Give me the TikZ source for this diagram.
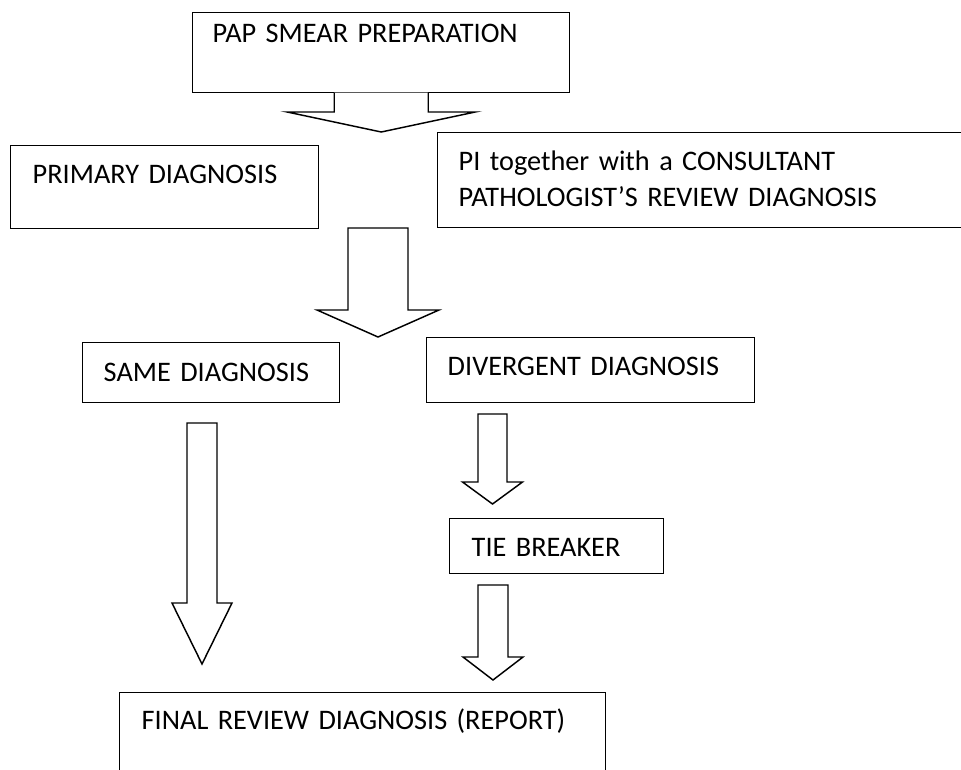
\documentclass[tikz,border=0pt]{standalone}
\usepackage{fontspec}
\setmainfont{Carlito}
\usepackage{tikz}
\usetikzlibrary{calc}
\tikzset{diagbox/.style={shape=rectangle,draw,line width=1.1pt,fill=white,anchor=north west,inner ysep=0pt,align=left,font=\fontsize{21.3pt}{27.1pt}\selectfont}}
\tikzset{arrowline/.style={line width=1.1pt,line join=miter}}

% hollow block arrow: start, tip, shaft half width, head half width, head length, closing
\newcommand{\blockarrow}[6]{%
\fill[white] ($(#1)+(-#3,0)$) -- ($(#2)+(-#3,-#5)$) -- ($(#2)+(-#4,-#5)$) -- (#2) -- ($(#2)+(#4,-#5)$) -- ($(#2)+(#3,-#5)$) -- ($(#1)+(#3,0)$) -- cycle;
\draw[arrowline] ($(#1)+(-#3,0)$) -- ($(#2)+(-#3,-#5)$) -- ($(#2)+(-#4,-#5)$) -- (#2) -- ($(#2)+(#4,-#5)$) -- ($(#2)+(#3,-#5)$) -- ($(#1)+(#3,0)$) #6;}

\begin{document}
\begin{tikzpicture}[x=0.75bp,y=-0.75bp]

\useasboundingbox (0,0) rectangle (961,770);
\fill[white] (0,0) rectangle (961,770);

\path (192,12) node [diagbox,inner xsep=15bp,text width=252.75bp,text height=22.5bp,text depth=37.5bp] (pap) {PAP SMEAR PREPARATION};

\path (10,145) node [diagbox,inner xsep=16.5bp,text width=198bp,text height=28.5bp,text depth=33.75bp] (primary) {PRIMARY DIAGNOSIS};

\path (437,132) node [diagbox,inner xsep=15.75bp,text width=372bp,text height=28.5bp,text depth=42.75bp] (review) {PI together with a CONSULTANT\\PATHOLOGIST’S REVIEW DIAGNOSIS};

\path (82,342) node [diagbox,inner xsep=15.75bp,text width=161.25bp,text height=29.25bp,text depth=15.75bp] (same) {SAME DIAGNOSIS};

\path (426,337) node [diagbox,inner xsep=15.75bp,text width=214.5bp,text height=28.5bp,text depth=20.25bp] (divergent) {DIVERGENT DIAGNOSIS};

\path (449,518) node [diagbox,inner xsep=16.5bp,text width=127.5bp,text height=28.5bp,text depth=12.75bp] (tie) {TIE BREAKER};

\path (119,692) node [diagbox,inner xsep=16.5bp,text width=331.5bp,text height=27.75bp,text depth=47.25bp] (final) {FINAL REVIEW DIAGNOSIS (REPORT)};

% arrow ends
\coordinate (a1s) at ([yshift=0.6pt]pap.south);
\coordinate (a1t) at (pap.south |- review.north);
\coordinate (a2s) at (378,228);
\coordinate (a2t) at (378,337);
\coordinate (a3s) at (492.5,414);
\coordinate (a3t) at (492.5,504);
\coordinate (a4s) at (493,585);
\coordinate (a4t) at (493,680);
\coordinate (a5s) at (202,423);
\coordinate (a5t) at (202,664);

\blockarrow{a1s}{a1t}{47}{94}{20}{}
\blockarrow{a2s}{a2t}{30}{61}{27}{-- cycle}
\blockarrow{a3s}{a3t}{14.5}{30}{22}{-- cycle}
\blockarrow{a4s}{a4t}{15}{30}{23}{-- cycle}
\blockarrow{a5s}{a5t}{15}{30}{61}{-- cycle}

\end{tikzpicture}
\end{document}
